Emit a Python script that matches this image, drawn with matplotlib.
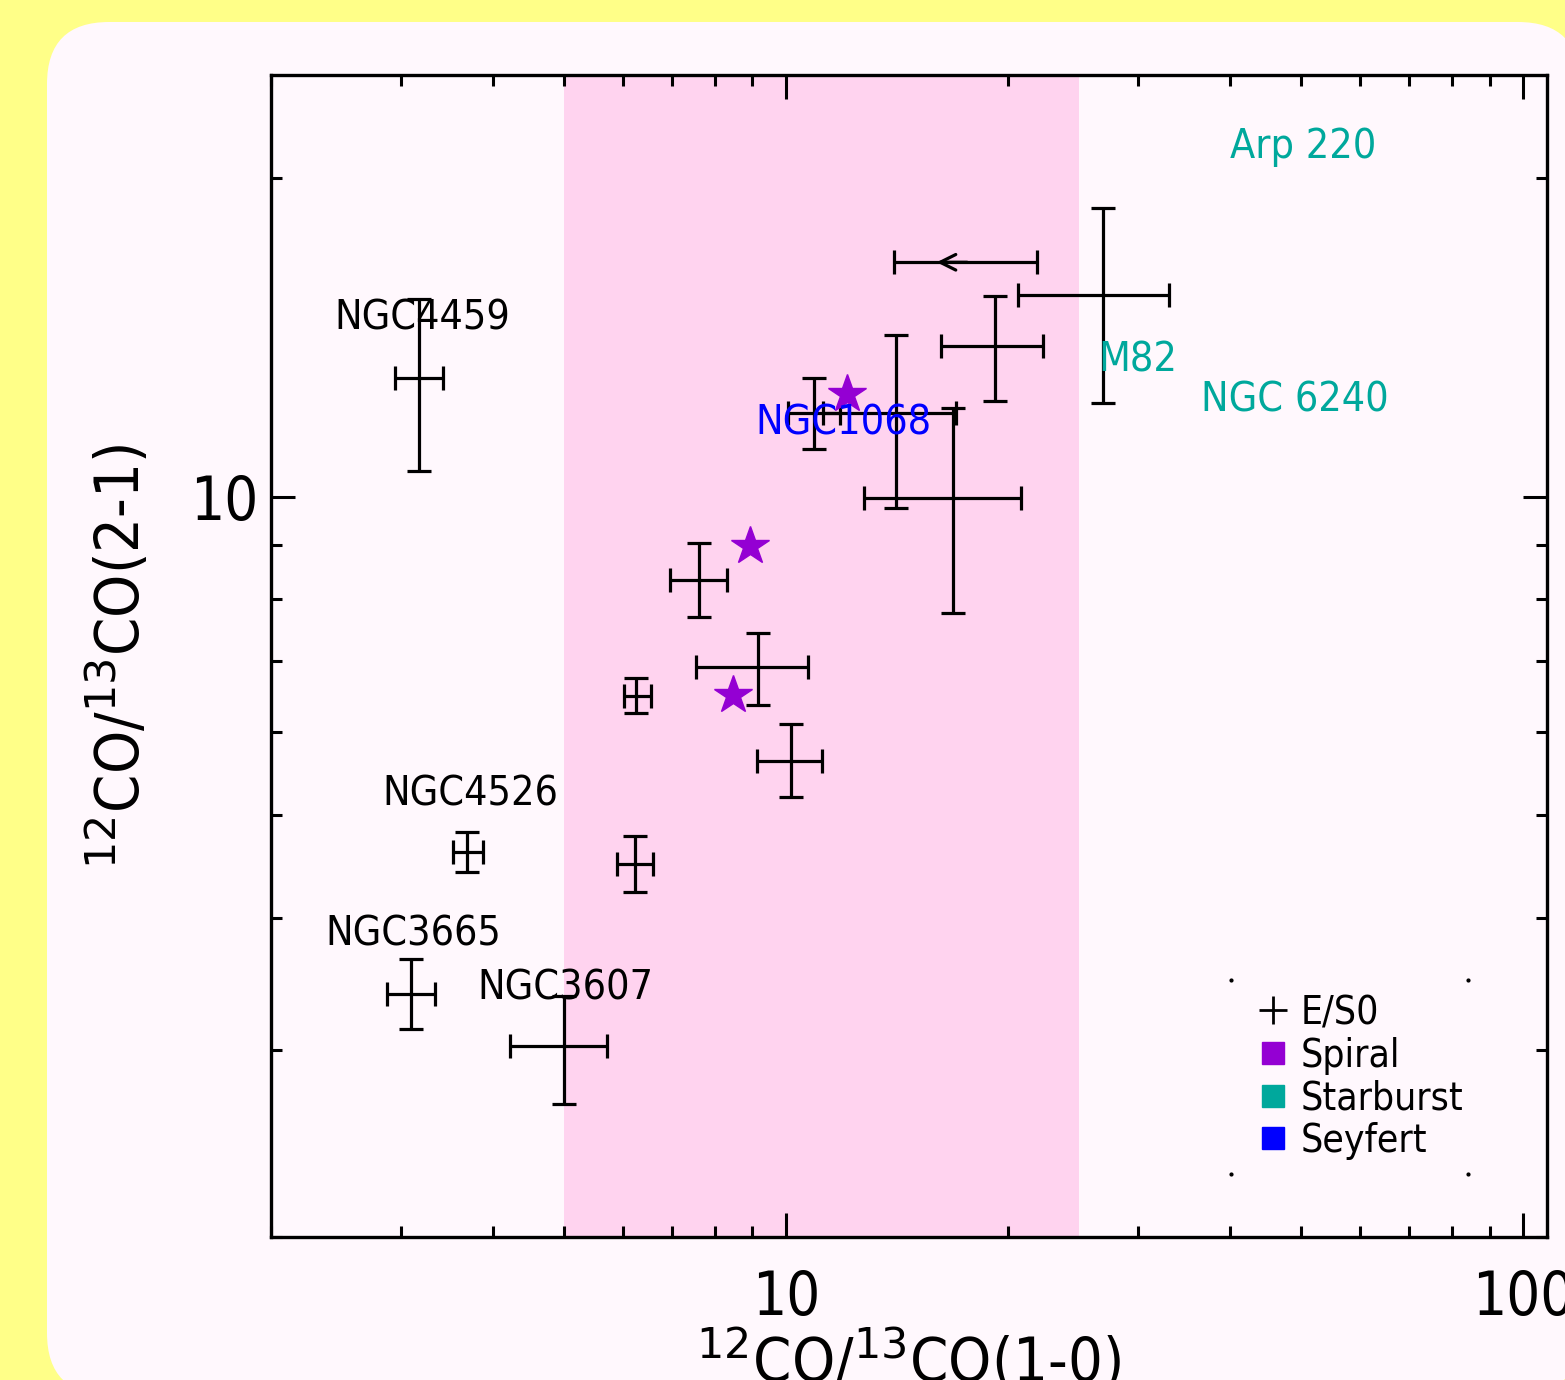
import matplotlib
matplotlib.use("Agg")
import matplotlib.pyplot as plt
import matplotlib.transforms as mtransforms
from matplotlib.lines import Line2D
from matplotlib.patches import FancyBboxPatch
from matplotlib.ticker import LogLocator, NullFormatter, FuncFormatter
import numpy as np

plt.rcParams["font.family"] = ["DejaVu Sans"]
plt.rcParams["mathtext.fontset"] = "dejavusans"

# E/S0 galaxies: ratio (1-0), ratio (2-1) with asymmetric error ranges
es0_x = [3.18, 3.69, 3.10, 5.00, 6.26, 6.24, 7.62, 9.16, 10.16, 10.92, 14.10, 16.85, 19.2, 26.9]
es0_xlo = [2.95, 3.53, 2.87, 4.22, 6.03, 5.90, 6.96, 7.55, 9.14, 10.06, 11.22, 12.76, 16.2, 20.6]
es0_xhi = [3.42, 3.88, 3.34, 5.72, 6.56, 6.60, 8.31, 10.7, 11.2, 11.84, 17.01, 20.84, 22.3, 33.1]
es0_y = [12.94, 4.62, 3.39, 3.03, 6.48, 4.50, 8.35, 6.90, 5.63, 12.0, 12.0, 9.96, 13.87, 15.49]
es0_ylo = [10.58, 4.42, 3.14, 2.67, 6.25, 4.23, 7.69, 6.36, 5.20, 11.09, 9.76, 7.76, 12.31, 12.26]
es0_yhi = [15.36, 4.82, 3.66, 3.38, 6.74, 4.78, 9.03, 7.43, 6.10, 12.95, 14.20, 12.13, 15.45, 18.74]

# upper limit point (1-0 ratio range, arrow to the left)
lim_x = 17.6
lim_xlo = 14.0
lim_xhi = 21.9
lim_y = 16.64
lim_arrow_to = 16.0

# spiral galaxies
spiral_x = [12.1, 8.94, 8.47]
spiral_y = [12.5, 8.99, 6.50]

# labels: (text, x, y, colour)
labels = [
    ("NGC4459", 3.21, 14.71, "black"),
    ("NGC4526", 3.73, 5.23, "black"),
    ("NGC3665", 3.12, 3.86, "black"),
    ("NGC3607", 5.01, 3.43, "black"),
    ("NGC1068", 11.95, 11.72, "#0000ff"),
    ("Arp 220", 50.3, 21.38, "#00a89c"),
    ("M82", 30.0, 13.43, "#00a89c"),
    ("NGC 6240", 49.0, 12.31, "#00a89c"),
]

band = (5, 25)

legend_names = ["E/S0", "Spiral", "Starburst", "Seyfert"]
legend_colors = ["black", "#9400d3", "#00a89c", "#0000ff"]

fig = plt.figure(figsize=(15.65, 13.8), dpi=100)
fig.patch.set_facecolor("#ffff88")

# rounded card behind the plot (pixel coordinates from bottom-left)
card = FancyBboxPatch((47, -15), 1533, 1373,
                      boxstyle="round,pad=0,rounding_size=62",
                      transform=mtransforms.IdentityTransform(),
                      facecolor="#fff8fd", edgecolor="none", zorder=-10)
fig.patches.append(card)

ax = fig.add_axes([271 / 1565, 1 - 1237 / 1380, 1276 / 1565, 1162 / 1380])
ax.set_zorder(5)
ax.set_facecolor("#fff8fd")
ax.set_xscale("log")
ax.set_yscale("log")
ax.set_xlim(2, 107.7)
ax.set_ylim(2, 25)

ax.axvspan(band[0], band[1], facecolor="#ffd3ef", edgecolor="none", zorder=0)

x = np.array(es0_x)
y = np.array(es0_y)
xerr = [x - np.array(es0_xlo), np.array(es0_xhi) - x]
yerr = [y - np.array(es0_ylo), np.array(es0_yhi) - y]
ax.errorbar(x, y, xerr=xerr, yerr=yerr, fmt="none", ecolor="black",
            elinewidth=2.3, capsize=8.5, capthick=2.3, zorder=3)

ax.errorbar([lim_x], [lim_y], xerr=[[lim_x - lim_xlo], [lim_xhi - lim_x]],
            fmt="none", ecolor="black", elinewidth=2.3, capsize=8.5,
            capthick=2.3, zorder=3)
ax.annotate("", xy=(lim_arrow_to, lim_y), xytext=(lim_x, lim_y),
            arrowprops=dict(arrowstyle="->", lw=2.3, color="black",
                            mutation_scale=28, shrinkA=0, shrinkB=0),
            zorder=3)

ax.plot(spiral_x, spiral_y, ls="none", marker="*", ms=29, color="#9400d3",
        mec="#9400d3", zorder=4)

for text, tx, ty, col in labels:
    ax.text(tx, ty, text, color=col, fontsize=29.5, ha="center", va="center",
            fontstretch="condensed", zorder=5)

# ticks
for axis in (ax.xaxis, ax.yaxis):
    axis.set_major_locator(LogLocator(base=10))
    axis.set_minor_locator(LogLocator(base=10, subs=np.arange(2, 10)))
    axis.set_minor_formatter(NullFormatter())
    axis.set_major_formatter(FuncFormatter(lambda v, p: "%g" % v))
ax.tick_params(which="both", direction="in", top=True, right=True,
               width=2.2, colors="black", labelsize=43)
ax.tick_params(which="major", length=17)
ax.tick_params(axis="x", which="major", pad=23)
ax.tick_params(axis="y", which="major", pad=9)
ax.tick_params(which="minor", length=8)
for t in ax.get_xticklabels() + ax.get_yticklabels():
    t.set_fontstretch("condensed")
for s in ax.spines.values():
    s.set_linewidth(2.4)

ax.set_xlabel(r"$^{12}$CO/$^{13}$CO(1-0)", fontsize=44, labelpad=0,
              fontstretch="condensed")
ax.set_ylabel(r"$^{12}$CO/$^{13}$CO(2-1)", fontsize=44, labelpad=27,
              fontstretch="condensed")

# legend
handles = [Line2D([], [], ls="none", marker="+", ms=20, mew=2, color="black")]
for c in legend_colors[1:]:
    handles.append(Line2D([], [], ls="none", marker="s", ms=16, color=c, mec=c))
lx0, lx1 = (1231 - 271) / 1276, (1468 - 271) / 1276
ly0, ly1 = (1237 - 1174) / 1162, (1237 - 980) / 1162
shift = 10 / 1276
leg = ax.legend(handles, legend_names, loc="center",
                bbox_to_anchor=(lx0 + shift, ly0, lx1 - lx0, ly1 - ly0),
                frameon=False, fontsize=28, handletextpad=0.25,
                labelspacing=0.12, handlelength=0.9, borderpad=0)
for t in leg.get_texts():
    t.set_fontstretch("condensed")
ax.plot([lx0, lx1, lx0, lx1], [ly0, ly0, ly1, ly1], ls="none", marker="o",
        ms=2, color="black", transform=ax.transAxes, clip_on=False)

fig.savefig("out.png", dpi=100, facecolor=fig.get_facecolor())
